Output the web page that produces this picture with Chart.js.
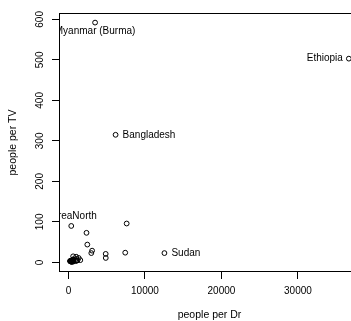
<!DOCTYPE html>
<html>
<head>
<meta charset="utf-8">
<script src="https://cdn.jsdelivr.net/npm/chart.js@4"></script>
<style>
  html, body { margin: 0; padding: 0; background: #fff; overflow: hidden; }
  #wrap { width: 365px; height: 321px; }
</style>
</head>
<body>
<div id="wrap"><canvas id="chart" width="365" height="321"></canvas></div>
<script>
// people per doctor / people per TV
const countries = ['Argentina', 'Bangladesh', 'Brazil', 'Canada', 'China', 'Colombia', 'Egypt', 'Ethiopia',
  'France', 'Germany', 'India', 'Indonesia', 'Iran', 'Italy', 'Japan', 'Kenya', 'KoreaNorth', 'Korea South',
  'Mexico', 'Morocco', 'Myanmar (Burma)', 'Pakistan', 'Peru', 'Philippines', 'Poland', 'Romania', 'Russia',
  'South Africa', 'Spain', 'Sudan', 'Taiwan', 'Thailand', 'Turkey', 'Ukraine', 'United Kingdom',
  'United States', 'Venezuela', 'Vietnam'];
const peoplePerDr = [370, 6166, 684, 449, 643, 1551, 616, 36660, 403, 346, 2471, 7427, 2992, 233, 609, 7615,
  370, 1066, 600, 4873, 3485, 2364, 1016, 1062, 480, 559, 259, 1340, 275, 12550, 965, 4883, 1189, 226, 611,
  404, 576, 3096];
const peoplePerTV = [4, 315, 4, 1.7, 8, 5.6, 15, 503, 2.6, 2.6, 44, 24, 23, 3.8, 1.8, 96, 90, 4.9, 6.6, 21,
  592, 73, 14, 8.8, 3.9, 6, 3.2, 11, 2.6, 23, 3.2, 11, 5, 3, 3, 1.3, 5.6, 29];
// labelled points and side of the label (R text pos: 1 below, 2 left, 3 above, 4 right)
const labelled = ['Myanmar (Burma)', 'Bangladesh', 'Ethiopia', 'KoreaNorth', 'Sudan'];
const labelPos = [1, 4, 2, 3, 4];
const xTicks = [0, 10000, 20000, 30000];
const yTicks = [0, 100, 200, 300, 400, 500, 600];

const points = peoplePerDr.map((x, i) => ({ x: x, y: peoplePerTV[i] }));
const FONT = 'Liberation Sans, Arial, Helvetica, sans-serif';

const boxPlugin = {
  id: 'box',
  afterDraw(chart) {
    const a = chart.chartArea, ctx = chart.ctx;
    ctx.save();
    ctx.strokeStyle = '#000';
    ctx.lineWidth = 1;
    ctx.strokeRect(Math.round(a.left) + 0.5, Math.round(a.top) + 0.5,
      Math.round(a.right - a.left), Math.round(a.bottom - a.top) - 1);
    ctx.restore();
  }
};

const labelPlugin = {
  id: 'pointLabels',
  afterDatasetsDraw(chart) {
    const a = chart.chartArea, ctx = chart.ctx;
    const xs = chart.scales.x, ys = chart.scales.y;
    ctx.save();
    ctx.beginPath();
    ctx.rect(a.left, a.top, a.right - a.left, a.bottom - a.top);
    ctx.clip();
    ctx.fillStyle = '#000';
    ctx.font = '10px ' + FONT;
    labelled.forEach((name, k) => {
      const i = countries.indexOf(name);
      const px = xs.getPixelForValue(peoplePerDr[i]);
      const py = ys.getPixelForValue(peoplePerTV[i]);
      const p = labelPos[k];
      if (p === 1) { ctx.textAlign = 'center'; ctx.textBaseline = 'middle'; ctx.fillText(name, px, py + 9); }
      if (p === 3) { ctx.textAlign = 'center'; ctx.textBaseline = 'middle'; ctx.fillText(name, px, py - 10); }
      if (p === 2) { ctx.textAlign = 'right'; ctx.textBaseline = 'middle'; ctx.fillText(name, px - 6, py); }
      if (p === 4) { ctx.textAlign = 'left'; ctx.textBaseline = 'middle'; ctx.fillText(name, px + 7, py); }
    });
    ctx.restore();
  }
};

new Chart(document.getElementById('chart'), {
  type: 'scatter',
  data: {
    datasets: [{
      data: points,
      pointStyle: 'circle',
      pointRadius: 2.4,
      pointBorderWidth: 1,
      borderColor: '#000',
      backgroundColor: 'rgba(0,0,0,0)',
      pointHoverRadius: 2.4
    }]
  },
  options: {
    responsive: false,
    animation: false,
    devicePixelRatio: 1,
    layout: { padding: { top: 13, right: 5, bottom: 0, left: 0 } },
    plugins: { legend: { display: false }, tooltip: { enabled: false } },
    scales: {
      x: {
        type: 'linear',
        min: -1231,
        max: 38117,
        afterFit(s) { s.height = 49; },
        afterBuildTicks(s) { s.ticks = xTicks.map(v => ({ value: v })); },
        grid: { drawOnChartArea: false, drawTicks: true, tickLength: 7, color: '#000' },
        border: { display: false },
        ticks: {
          color: '#000', font: { family: FONT, size: 10 }, padding: 6,
          maxRotation: 0, autoSkip: false, callback: v => String(v)
        },
        title: { display: true, text: 'people per Dr', color: '#000',
          font: { family: FONT, size: 10.5 }, padding: { top: 0, bottom: 0 } }
      },
      y: {
        type: 'linear',
        min: -23.68,
        max: 615.68,
        afterFit(s) { s.width = 59; },
        afterBuildTicks(s) { s.ticks = yTicks.map(v => ({ value: v })); },
        grid: { drawOnChartArea: false, drawTicks: true, tickLength: 7, color: '#000' },
        border: { display: false },
        ticks: {
          color: '#000', font: { family: FONT, size: 10 }, padding: 3,
          minRotation: 90, maxRotation: 90, crossAlign: 'center', autoSkip: false,
          callback: v => String(v)
        },
        title: { display: true, text: 'people per TV', color: '#000',
          font: { family: FONT, size: 10.5 }, padding: { top: 7, bottom: 0 } }
      }
    }
  },
  plugins: [boxPlugin, labelPlugin]
});
</script>
</body>
</html>
